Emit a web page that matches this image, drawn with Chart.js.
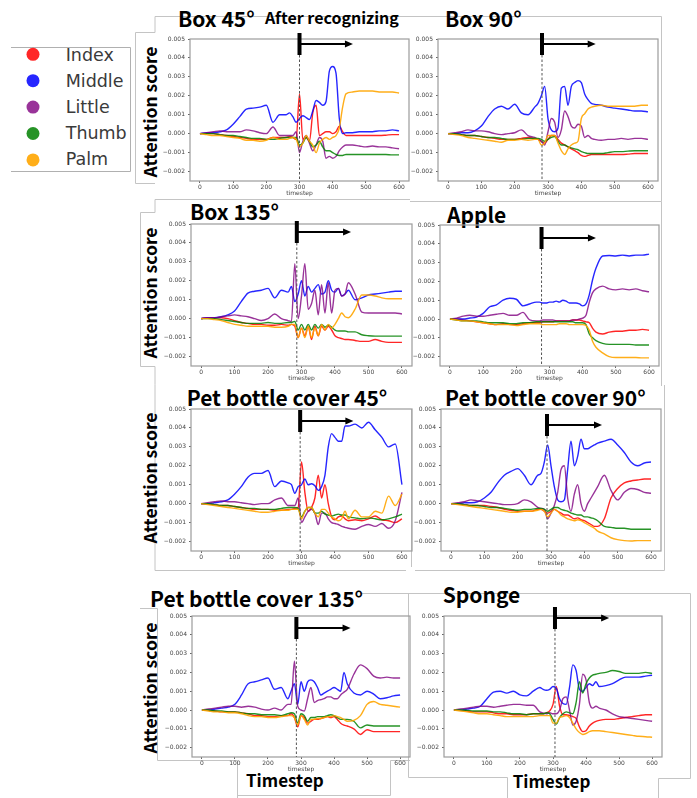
<!DOCTYPE html>
<html lang="en">
<head>
<meta charset="UTF-8">
<title>Attention score per finger</title>
<script src="https://cdn.jsdelivr.net/npm/chart.js"></script>
<style>
    body { margin: 0; background: #fff; }
    #page { position: relative; width: 697px; height: 798px; overflow: hidden; }
    #page canvas { position: absolute; }
    #overlay { position: absolute; left: 0; top: 0; }
    .big { font-family: "Noto Sans CJK JP", sans-serif; font-weight: 700; fill: #000; }
    .leg { font-family: "DejaVu Sans", sans-serif; fill: #3a3a3a; font-size: 17.5px; }
</style>
</head>
<body>
<div id="page">
    <svg id="overlay" width="697" height="798">
        <g fill="none" stroke="#c4c4c4" stroke-width="1">
            <path d="M155,16.5H661.5V201.5H410"/>
            <path d="M155,16.5V32.5H135.5V183.5H155"/>
            <path d="M155,199.5H410"/>
            <path d="M155,199.5V212.5H140.5V366.5H155V384.5"/>
            <path d="M661.5,201.5V386"/>
            <path d="M155,384.5V570.5H406"/>
            <path d="M411.5,409V567"/>
            <path d="M415,570.5H664.5V385"/>
            <path d="M140,608.5H157.5V760.5H237.5V798"/>
            <path d="M237.5,795.5H390.5V760.5H410"/>
            <path d="M360,593.5H410"/>
            <path d="M407,593.5H690.5V778.5H658.5V798"/>
            <path d="M408.5,593.5V777.5H507.5V798"/>
            <path d="M11,47.5H130.5V171.5H11" stroke="#b0b0b0"/>
        </g>
        <g id="texts"></g>
    </svg>
</div>
<script>
// timesteps shared by every panel
const timesteps = [0, 20, 40, 60, 80, 100, 120, 140, 160, 180, 200, 220, 240, 260, 270, 280, 290, 300, 310, 320,
    330, 340, 350, 360, 370, 380, 390, 400, 410, 420, 430, 440, 460, 480, 500, 520, 540, 560, 580, 600];

const fingers = ['Index', 'Middle', 'Little', 'Thumb', 'Palm'];
const fingerColors = ['rgba(255,0,0,0.85)', 'rgba(0,0,255,0.85)', 'rgba(128,0,128,0.8)', 'rgba(0,128,0,0.85)', 'rgba(255,165,0,0.9)'];

// axis ticks (y in units of 0.001)
const xTicks = [0, 100, 200, 300, 400, 500, 600];
const yTicks = [-2, -1, 0, 1, 2, 3, 4, 5];

const titles = ['Box 45°', 'Box 90°', 'Box 135°', 'Apple', 'Pet bottle cover 45°', 'Pet bottle cover 90°',
    'Pet bottle cover 135°', 'Sponge'];
// timestep where the object was recognized, and where the arrow ends
const recogStep = [300, 282, 286, 276, 296, 288, 286, 306];
const arrowEnd = [461, 443, 448, 440, 455, 453, 450, 470];

// attention scores x 0.001, rows: Index, Middle, Little, Thumb, Palm
const box45 = [
    [0, 0, 0, -0.05, -0.1, -0.15, -0.2, -0.25, -0.3, -0.3, -0.3, -0.2, -0.2, -0.2, -0.15, -0.2, -0.3, 2.1, -0.3, -0.2, -0.4, 1.1, 1.5, -0.1, 0.0, 0.1, 0.1, 0.0, 0.1, 0.4, 0.1, -0.1, -0.1, -0.1, -0.1, -0.1, -0.1, -0.08, -0.05, -0.05],
    [0, 0.05, 0.05, 0.1, 0.2, 0.5, 0.9, 1.3, 1.35, 1.4, 1.5, 0.6, 1.0, 1.0, 1.1, 0.9, 0.6, 0.8, 0.95, 0.85, 0.75, 1.2, 1.75, 1.65, 1.5, 1.7, 3.3, 3.55, 3.2, 0.8, 0.0, 0.05, 0.05, 0.1, 0.1, 0.1, 0.15, 0.15, 0.2, 0.15],
    [0, 0.05, 0.1, 0.15, 0.1, 0.1, 0.1, 0.2, 0.15, 0.05, 0.0, 0.35, -0.1, -0.1, -0.1, -0.1, 0.1, -1.0, -0.4, -0.1, -0.5, -0.9, -0.6, -0.2, -0.4, -1.3, -1.2, -1.3, -1.2, -0.9, -0.7, -0.6, -0.6, -0.65, -0.7, -0.65, -0.7, -0.7, -0.75, -0.8],
    [0, 0, 0, -0.05, -0.1, -0.1, -0.15, -0.2, -0.25, -0.25, -0.3, -0.3, -0.25, -0.2, -0.2, -0.2, -0.2, -0.6, -0.5, -0.2, -0.4, -0.7, -0.6, -0.4, -0.7, -0.9, -0.9, -1.0, -1.1, -1.15, -1.15, -1.1, -1.1, -1.1, -1.1, -1.1, -1.1, -1.1, -1.12, -1.12],
    [0, -0.05, -0.1, -0.1, -0.15, -0.2, -0.25, -0.35, -0.35, -0.4, -0.35, -0.2, -0.3, -0.3, -0.25, -0.2, -0.3, -0.7, -0.5, -0.1, -0.4, -0.6, -1.0, -0.5, -0.3, -0.2, -0.3, -0.2, -0.1, 0.3, 1.4, 2.1, 2.2, 2.25, 2.25, 2.25, 2.2, 2.2, 2.2, 2.15]
];
const box90 = [
    [0, -0.02, -0.05, -0.1, -0.1, -0.15, -0.2, -0.25, -0.3, -0.3, -0.3, -0.25, -0.2, -0.25, -0.3, -0.4, -0.5, -0.3, -0.1, -0.1, -0.3, -0.5, -0.6, -0.7, -0.8, -0.9, -1.0, -1.15, -1.2, -1.15, -1.1, -1.1, -1.1, -1.1, -1.1, -1.1, -1.08, -1.05, -1.05, -1.05],
    [0, 0, 0.05, 0.05, 0.15, 0.4, 0.9, 1.3, 1.45, 1.3, 1.55, 1.1, 1.0, 1.4, 1.6, 2.0, 2.5, 0.8, 0.2, 0.1, 0.3, 2.4, 2.5, 1.5, 2.5, 2.7, 2.8, 2.7, 2.1, 1.8, 1.6, 1.55, 1.5, 1.4, 1.35, 1.3, 1.25, 1.2, 1.2, 1.15],
    [0, 0.05, 0.1, 0.2, 0.15, 0.15, 0.1, 0, -0.05, 0, 0.05, 0.2, -0.1, -0.2, -0.3, -0.4, -0.6, 0.1, 0.8, 0.6, -0.2, 0.2, 1.2, 0.9, 0.4, 0.3, 0.5, 0.4, -0.2, -0.1, -0.25, -0.3, -0.35, -0.3, -0.3, -0.25, -0.3, -0.25, -0.25, -0.3],
    [0, 0, -0.05, -0.1, -0.1, -0.15, -0.2, -0.2, -0.25, -0.3, -0.3, -0.3, -0.25, -0.25, -0.25, -0.3, -0.4, -0.3, -0.2, -0.15, -0.4, -0.6, -0.6, -0.7, -0.75, -0.8, -0.85, -0.95, -1.0, -1.05, -1.05, -1.05, -1.05, -1.0, -0.95, -0.95, -0.92, -0.9, -0.9, -0.9],
    [0, -0.05, -0.1, -0.2, -0.25, -0.3, -0.35, -0.4, -0.45, -0.35, -0.35, -0.3, -0.35, -0.3, -0.3, -0.6, -0.5, -0.1, -0.1, -0.1, -0.5, -0.9, -1.1, -0.8, -0.6, -0.5, -0.4, 0.8, 1.05, 1.3, 1.4, 1.45, 1.5, 1.45, 1.45, 1.45, 1.45, 1.45, 1.5, 1.5]
];
const box135 = [
    [0, 0.05, 0.05, 0.05, 0, -0.1, -0.2, -0.25, -0.3, -0.3, -0.35, -0.35, -0.3, -0.35, -0.3, -0.4, -1.0, -0.5, -0.9, -0.4, -1.1, -0.4, -0.9, -0.4, -0.6, -0.4, -0.6, -0.9, -1.0, -1.05, -1.1, -1.1, -1.15, -1.2, -1.2, -1.1, -1.2, -1.25, -1.25, -1.25],
    [0, 0.05, 0.05, 0.1, 0.2, 0.4, 0.9, 1.35, 1.45, 1.5, 1.6, 1.1, 1.5, 1.4, 1.7, 0.9, 1.3, 2.0, 1.2, 1.7, 1.4, 1.6, 1.8, 1.3, 1.4, 2.0, 1.5, 1.4, 1.6, 1.2, 1.3, 1.5, 1.0, 1.1, 1.25, 1.3, 1.35, 1.4, 1.45, 1.45],
    [0, 0.05, 0.05, 0.1, 0.15, 0.2, 0.15, 0.1, 0, -0.1, 0, 0.25, 0, -0.1, -0.15, 2.9, 0, 1.2, 2.9, 0.5, 0.8, 1.5, 0.2, 1.8, 0.3, 1.9, 0.3, 1.5, 1.6, 1.2, 1.3, 1.9, 1.3, 0.35, 0.3, 0.3, 0.3, 0.3, 0.3, 0.25],
    [0, 0, 0, -0.05, -0.1, -0.15, -0.2, -0.25, -0.25, -0.25, -0.2, -0.25, -0.25, -0.2, -0.2, -0.15, -0.6, -0.3, -0.6, -0.3, -0.6, -0.3, -0.5, -0.3, -0.45, -0.35, -0.45, -0.6, -0.65, -0.65, -0.65, -0.7, -0.7, -0.85, -0.9, -0.92, -0.92, -0.92, -0.92, -0.92],
    [0, 0, -0.05, -0.1, -0.2, -0.3, -0.35, -0.4, -0.4, -0.4, -0.4, -0.45, -0.45, -0.4, -0.3, -0.3, -1.0, -0.5, -1.0, -0.4, -1.0, -0.5, -0.9, -0.3, -0.6, -0.3, -0.5, -0.3, 0, 0.3, 0.1, 0.05, 0.5, 1.25, 1.25, 1.2, 1.1, 1.05, 1.05, 1.05]
];
const apple = [
    [0, 0, -0.05, -0.1, -0.15, -0.2, -0.25, -0.3, -0.25, -0.3, -0.3, -0.25, -0.2, -0.2, -0.2, -0.15, -0.15, -0.15, -0.15, -0.1, -0.1, -0.1, -0.1, -0.1, -0.05, -0.05, -0.05, -0.1, -0.15, -0.2, -0.5, -0.7, -0.8, -0.7, -0.65, -0.65, -0.6, -0.6, -0.55, -0.6],
    [0, 0, 0, 0.05, 0.1, 0.3, 0.65, 0.75, 1.0, 1.1, 1.05, 0.7, 0.8, 0.9, 0.9, 0.85, 0.85, 0.9, 0.9, 0.95, 0.9, 1.0, 0.95, 0.85, 0.85, 0.85, 0.8, 0.7, 0.8, 1.3, 2.1, 2.7, 3.35, 3.38, 3.35, 3.4, 3.35, 3.4, 3.4, 3.45],
    [0, 0.05, 0.15, 0.2, 0.15, 0.15, 0.2, 0.25, 0.3, 0.2, 0.2, 0.35, -0.05, -0.1, -0.1, -0.05, -0.05, -0.05, -0.05, -0.1, -0.1, -0.1, -0.1, -0.1, -0.05, -0.05, 0, 0.05, 0.2, 0.9, 1.4, 1.6, 1.75, 1.6, 1.55, 1.6, 1.55, 1.6, 1.5, 1.45],
    [0, -0.05, -0.1, -0.1, -0.1, -0.15, -0.2, -0.2, -0.2, -0.25, -0.25, -0.2, -0.2, -0.15, -0.15, -0.15, -0.15, -0.15, -0.15, -0.15, -0.15, -0.15, -0.15, -0.15, -0.15, -0.2, -0.2, -0.2, -0.3, -0.8, -1.0, -1.15, -1.3, -1.35, -1.35, -1.35, -1.35, -1.38, -1.38, -1.38],
    [0, -0.05, -0.1, -0.1, -0.15, -0.2, -0.25, -0.3, -0.3, -0.3, -0.35, -0.3, -0.25, -0.25, -0.25, -0.3, -0.3, -0.3, -0.3, -0.3, -0.25, -0.25, -0.25, -0.3, -0.3, -0.3, -0.3, -0.3, -0.35, -0.6, -1.2, -1.5, -1.8, -2.0, -2.05, -2.05, -2.05, -2.05, -2.07, -2.07]
];
const pet45 = [
    [0, -0.02, -0.05, -0.1, -0.1, -0.15, -0.2, -0.25, -0.3, -0.3, -0.3, -0.35, -0.35, -0.3, -0.3, -0.25, -0.2, 2.2, 0.6, -0.4, -0.2, 0.3, 1.5, 0.3, 1.0, 0, -0.7, -0.85, -0.7, -0.65, -0.8, -0.9, -0.85, -0.9, -0.8, -0.65, -0.85, -0.9, -1.0, -0.8],
    [0, 0, 0.05, 0.1, 0.2, 0.5, 0.9, 1.4, 1.6, 1.6, 1.75, 0.9, 1.2, 1.1, 1.0, 0.55, 0.9, 1.0, 1.3, 1.0, 1.05, 0.95, 0.7, 0.9, 1.5, 3.0, 3.7, 3.5, 3.3, 3.3, 4.1, 4.1, 4.2, 4.0, 4.3, 3.9, 3.5, 3.0, 3.15, 1.0],
    [0, 0.05, 0.1, 0.15, 0.1, 0.1, 0.05, 0, -0.05, 0, 0, 0.2, 0.3, -0.1, -0.1, -0.1, 0.3, -1.0, -0.7, -0.4, -0.3, -0.5, -1.1, -0.5, -0.5, -0.8, -1.0, -1.05, -1.1, -1.2, -1.25, -1.3, -1.35, -1.2, -1.1, -1.2, -1.05, -1.3, -0.9, 0.6],
    [0, 0, -0.05, -0.1, -0.1, -0.15, -0.2, -0.25, -0.25, -0.3, -0.3, -0.3, -0.25, -0.2, -0.2, -0.2, -0.25, -0.7, -0.4, -0.2, -0.2, -0.5, -0.5, -0.4, -0.55, -0.6, -0.65, -0.6, -0.55, -0.6, -0.6, -0.7, -0.75, -0.8, -0.75, -0.8, -0.85, -0.8, -0.7, -0.55],
    [0, -0.05, -0.1, -0.15, -0.2, -0.25, -0.3, -0.35, -0.4, -0.45, -0.45, -0.4, -0.35, -0.35, -0.3, -0.3, -0.3, -0.8, -0.4, -0.2, -0.2, -0.5, -0.7, -0.3, -0.3, -0.5, -0.7, -0.8, -0.9, -0.8, -0.4, -0.8, -0.35, -0.7, -0.7, -0.4, -0.5, 0.4, -0.1, 0.5]
];
const pet90 = [
    [0, -0.02, -0.05, -0.1, -0.1, -0.1, -0.15, -0.2, -0.3, -0.35, -0.4, -0.4, -0.4, -0.3, -0.3, -0.4, -0.5, -0.4, -0.3, -0.4, -0.5, -0.6, -0.6, -0.7, -0.8, -0.75, -0.85, -0.9, -1.0, -1.1, -1.2, -1.2, -0.8, 0.3, 0.8, 1.1, 1.2, 1.25, 1.3, 1.3],
    [0, 0, 0.05, 0.05, 0.1, 0.3, 0.6, 1.1, 1.5, 1.7, 1.85, 1.5, 1.0, 1.5, 1.6, 2.2, 3.1, 2.0, 0.9, 0.2, 0.1, 0.2, 1.8, 3.3, 2.0, 2.5, 3.4, 2.9, 2.9, 3.0, 3.1, 3.2, 3.3, 3.4, 3.1, 2.7, 2.2, 2.0, 2.15, 2.2],
    [0, 0.05, 0.1, 0.2, 0.15, 0.1, 0.05, 0, -0.05, -0.05, 0, 0.2, 0.1, -0.2, -0.25, -0.3, -0.8, -0.5, -0.1, 0.6, 1.8, 2.0, 0.3, -0.4, 0.5, 1.0, 0, -0.4, 0, 0.3, 0.6, 0.9, 1.5, 0.7, 0.2, 0.6, 0.8, 0.75, 0.6, 0.55],
    [0, 0, -0.05, -0.1, -0.1, -0.15, -0.2, -0.2, -0.25, -0.3, -0.35, -0.3, -0.3, -0.25, -0.25, -0.3, -0.4, -0.3, -0.2, -0.2, -0.3, -0.35, -0.4, -0.5, -0.55, -0.6, -0.6, -0.7, -0.7, -0.75, -0.8, -0.9, -1.2, -1.25, -1.3, -1.3, -1.35, -1.35, -1.35, -1.35],
    [0, -0.05, -0.1, -0.15, -0.2, -0.25, -0.3, -0.35, -0.4, -0.45, -0.45, -0.4, -0.4, -0.35, -0.3, -0.4, -0.7, -0.5, -0.3, -0.4, -0.6, -0.7, -0.8, -0.85, -0.9, -0.85, -0.9, -1.0, -1.1, -1.2, -1.3, -1.45, -1.6, -1.8, -1.9, -1.95, -1.97, -1.95, -1.95, -1.95]
];
const pet135 = [
    [0, -0.02, -0.05, -0.1, -0.1, -0.1, -0.15, -0.2, -0.3, -0.3, -0.35, -0.35, -0.3, -0.3, -0.2, -0.4, -0.9, -0.3, -0.4, -0.7, -0.6, -0.5, -0.5, -0.45, -0.4, -0.35, -0.4, -0.35, -0.5, -0.7, -0.8, -0.85, -1.0, -1.3, -1.05, -1.15, -1.15, -1.15, -1.15, -1.15],
    [0, 0, 0.05, 0.1, 0.15, 0.3, 0.8, 1.4, 1.5, 1.6, 1.7, 1.1, 1.2, 0.6, 1.0, 1.4, 0.3, 1.5, 1.0, 1.5, 1.6, 1.5, 1.2, 0.8, 0.9, 1.0, 1.1, 1.2, 1.1, 1.0, 2.0, 1.4, 0.9, 0.8, 1.0, 0.85, 0.6, 0.65, 0.75, 0.8],
    [0, 0.05, 0.1, 0.15, 0.2, 0.2, 0.15, 0.2, 0.15, 0.05, 0, 0.1, 0, 0.3, 0.3, 2.6, 0.2, 0, -0.05, 0.6, 1.2, 0.4, 0.5, 0.55, 0.6, 0.7, 0.7, 0.6, 0.6, 0.8, 0.95, 1.1, 1.9, 2.4, 2.2, 1.8, 1.7, 1.75, 1.7, 1.7],
    [0, 0, -0.05, -0.05, -0.1, -0.1, -0.15, -0.2, -0.2, -0.25, -0.25, -0.25, -0.3, -0.2, -0.15, -0.2, -0.7, -0.2, -0.3, -0.6, -0.4, -0.4, -0.35, -0.35, -0.35, -0.3, -0.25, -0.3, -0.4, -0.5, -0.5, -0.5, -0.6, -0.95, -0.8, -0.85, -0.85, -0.85, -0.85, -0.85],
    [0, -0.05, -0.1, -0.1, -0.15, -0.15, -0.2, -0.3, -0.35, -0.35, -0.4, -0.4, -0.35, -0.3, -0.3, -0.4, -0.8, -0.3, -0.5, -0.8, -0.5, -0.5, -0.45, -0.45, -0.4, -0.35, -0.35, -0.3, -0.35, -0.4, -0.5, -0.6, -0.55, -0.3, 0.3, 0.45, 0.3, 0.25, 0.2, 0.15]
];
const sponge = [
    [0, -0.02, -0.05, -0.1, -0.1, -0.1, -0.15, -0.2, -0.2, -0.25, -0.25, -0.25, -0.2, -0.2, -0.2, -0.15, -0.05, 0.3, 1.25, 0.2, -0.25, -0.25, -0.3, -0.35, -0.45, -0.9, -1.15, -1.1, -0.85, -0.7, -0.6, -0.55, -0.5, -0.5, -0.45, -0.4, -0.35, -0.3, -0.25, -0.25],
    [0, 0, 0.05, 0.1, 0.2, 0.6, 0.95, 1.0, 0.9, 1.0, 0.8, 0.75, 1.0, 1.2, 1.1, 1.05, 1.1, 1.25, 1.15, 0.6, 0.35, 0.3, 1.2, 2.4, 2.1, 1.1, 1.0, 1.2, 1.4, 1.3, 1.5, 1.25, 1.3, 1.4, 1.6, 1.75, 1.75, 1.75, 1.8, 1.85],
    [0, 0.05, 0.1, 0.15, 0.2, 0.2, 0.15, 0.2, 0.25, 0.3, 0.3, 0.25, 0.25, -0.1, -0.15, -0.2, -0.15, -0.2, -0.2, 0, 0.6, 0.7, 0, -0.8, -0.6, 0.3, 1.9, 1.6, 0.4, 0.1, 0.2, 0.1, 0, -0.2, -0.35, -0.4, -0.45, -0.5, -0.55, -0.6],
    [0, 0, -0.02, -0.05, -0.05, -0.05, -0.1, -0.1, -0.15, -0.2, -0.2, -0.25, -0.2, -0.2, -0.2, -0.15, -0.2, -0.5, -0.75, -0.4, -0.2, -0.1, -0.15, -0.2, 0.4, 1.5, 0.9, 1.4, 1.7, 1.85, 1.9, 1.95, 2.0, 2.1, 2.05, 1.95, 1.95, 1.95, 2.0, 1.95],
    [0, -0.05, -0.1, -0.15, -0.2, -0.2, -0.25, -0.3, -0.35, -0.35, -0.35, -0.35, -0.35, -0.3, -0.3, -0.3, -0.3, -0.7, -0.7, -0.4, -0.35, -0.3, -0.4, -0.7, -1.0, -1.2, -1.3, -1.25, -1.15, -1.1, -1.1, -1.1, -1.15, -1.2, -1.25, -1.3, -1.35, -1.4, -1.42, -1.45]
];
const panelData = [box45, box90, box135, apple, pet45, pet90, pet135, sponge];

// page layout: plot area of each panel (px), offset of the black bar from the plot top
const plotBoxes = [
    { left: 190, top: 39, w: 219, h: 142, bar: -6 },
    { left: 438, top: 39, w: 220, h: 142, bar: -6 },
    { left: 191, top: 224, w: 221, h: 142, bar: -3 },
    { left: 440, top: 225, w: 219, h: 141, bar: 2 },
    { left: 191, top: 409, w: 221, h: 142, bar: 1 },
    { left: 441, top: 409, w: 220, h: 142, bar: 5 },
    { left: 192, top: 616, w: 218, h: 141, bar: 1 },
    { left: 444, top: 616, w: 218, h: 141, bar: -9 }
];
const titlePos = [[178, 26.7], [445, 26.7], [190, 220], [447, 223.3], [186.7, 405.7], [445, 405.7], [150, 606.7], [442.7, 603.3]];
const yLabelCenters = [112, 293, 478, 688];

const AXIS_W = 32, PAD_TOP = 12, PAD_RIGHT = 4, XAXIS_H = 16;

// recognition marker + matplotlib style frame
const markerPlugin = {
    id: 'marker',
    afterDatasetsDraw(chart, args, opts) {
        const { ctx, chartArea: a } = chart;
        const x = chart.scales.x;
        ctx.save();
        ctx.strokeStyle = '#9c9c9c';
        ctx.lineWidth = 1.2;
        ctx.strokeRect(a.left, a.top, a.right - a.left, a.bottom - a.top);

        const px = x.getPixelForValue(opts.step);
        const tip = x.getPixelForValue(opts.end);
        const barTop = a.top + opts.bar;
        const barH = 22;
        ctx.setLineDash([2.5, 2]);
        ctx.strokeStyle = '#555';
        ctx.lineWidth = 1;
        ctx.beginPath();
        ctx.moveTo(px, barTop + barH);
        ctx.lineTo(px, a.bottom);
        ctx.stroke();
        ctx.setLineDash([]);

        ctx.fillStyle = '#000';
        ctx.fillRect(px - 2, barTop, 4, barH);
        const ay = barTop + barH / 2;
        ctx.strokeStyle = '#000';
        ctx.lineWidth = 2.2;
        ctx.beginPath();
        ctx.moveTo(px, ay);
        ctx.lineTo(tip - 6, ay);
        ctx.stroke();
        ctx.beginPath();
        ctx.moveTo(tip, ay);
        ctx.lineTo(tip - 8, ay - 3.5);
        ctx.lineTo(tip - 8, ay + 3.5);
        ctx.closePath();
        ctx.fill();
        ctx.restore();
    }
};

const page = document.getElementById('page');
const tickFont = { family: 'DejaVu Sans', size: 6 };

panelData.forEach(function (rows, p) {
    const b = plotBoxes[p];
    const canvas = document.createElement('canvas');
    canvas.width = AXIS_W + b.w + PAD_RIGHT;
    canvas.height = PAD_TOP + b.h + XAXIS_H;
    canvas.style.left = (b.left - AXIS_W) + 'px';
    canvas.style.top = (b.top - PAD_TOP) + 'px';
    canvas.style.width = canvas.width + 'px';
    canvas.style.height = canvas.height + 'px';
    page.appendChild(canvas);

    new Chart(canvas.getContext('2d'), {
        type: 'line',
        data: {
            datasets: rows.map(function (vals, i) {
                return {
                    label: fingers[i],
                    data: timesteps.map(function (t, k) { return { x: t, y: vals[k] }; }),
                    borderColor: fingerColors[i],
                    borderWidth: 1.4,
                    pointRadius: 0,
                    cubicInterpolationMode: 'monotone',
                    order: 4 - i
                };
            })
        },
        options: {
            responsive: false,
            animation: false,
            devicePixelRatio: 1,
            layout: { padding: { top: PAD_TOP, right: PAD_RIGHT, left: 0, bottom: 0 } },
            plugins: {
                legend: { display: false },
                tooltip: { enabled: false },
                marker: { step: recogStep[p], end: arrowEnd[p], bar: b.bar }
            },
            scales: {
                x: {
                    type: 'linear',
                    min: -30,
                    max: 630,
                    afterBuildTicks: function (s) { s.ticks = xTicks.map(function (v) { return { value: v }; }); },
                    afterFit: function (s) { s.height = XAXIS_H; },
                    grid: { drawOnChartArea: false, tickLength: 2, color: '#666' },
                    border: { display: false },
                    ticks: { font: tickFont, color: '#444', padding: 1, autoSkip: false, maxRotation: 0 },
                    title: { display: true, text: 'timestep', font: tickFont, color: '#444', padding: 0 }
                },
                y: {
                    min: -2.5,
                    max: 5,
                    afterBuildTicks: function (s) { s.ticks = yTicks.map(function (v) { return { value: v }; }); },
                    afterFit: function (s) { s.width = AXIS_W; },
                    grid: { drawOnChartArea: false, tickLength: 2, color: '#666' },
                    border: { display: false },
                    ticks: {
                        font: tickFont, color: '#444', padding: 3,
                        callback: function (v) { return (v / 1000).toFixed(3).replace('-', '\u2212'); }
                    }
                }
            }
        },
        plugins: [markerPlugin]
    });
});

// texts: titles, axis labels, legend
const NS = 'http://www.w3.org/2000/svg';
const texts = document.getElementById('texts');
function addText(str, x, y, cls, size, extra) {
    const t = document.createElementNS(NS, 'text');
    t.setAttribute('x', x);
    t.setAttribute('y', y);
    t.setAttribute('class', cls);
    if (size) t.setAttribute('font-size', size);
    if (extra) Object.keys(extra).forEach(function (k) { t.setAttribute(k, extra[k]); });
    t.textContent = str;
    texts.appendChild(t);
    return t;
}
titles.forEach(function (s, i) { addText(s, titlePos[i][0], titlePos[i][1], 'big', 21); });
addText('After recognizing', 265, 24.3, 'big', 16);
yLabelCenters.forEach(function (cy) {
    addText('Attention score', 0, 0, 'big', 17.5,
        { 'text-anchor': 'middle', transform: 'translate(156.5,' + cy + ') rotate(-90)' });
});
addText('Timestep', 246, 787.3, 'big', 17);
addText('Timestep', 512.7, 788, 'big', 17);

fingers.forEach(function (name, i) {
    const c = document.createElementNS(NS, 'circle');
    c.setAttribute('cx', 33);
    c.setAttribute('cy', 54.3 + 26.4 * i);
    c.setAttribute('r', 6.5);
    c.setAttribute('fill', fingerColors[i]);
    texts.appendChild(c);
    addText(name, 65.7, 61 + 25.9 * i, 'leg');
});
</script>
</body>
</html>
